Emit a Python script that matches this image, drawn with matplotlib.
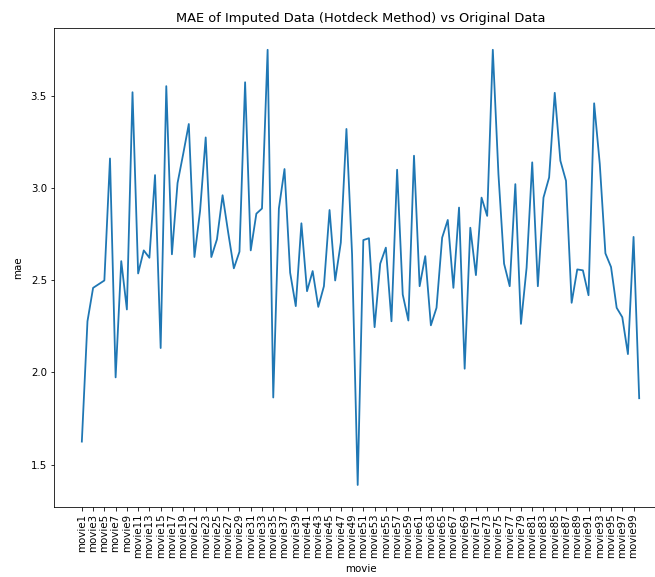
import matplotlib
matplotlib.use("Agg")
import matplotlib.pyplot as plt

# MAE per movie
movies = [f"movie{i}" for i in range(1, 101)]
mae = [
    1.625, 2.277, 2.458, 2.478, 2.498, 3.159, 1.973, 2.603, 2.341, 3.518,
    2.536, 2.661, 2.621, 3.069, 2.132, 3.551, 2.640, 3.026, 3.183, 3.346,
    2.625, 2.875, 3.273, 2.625, 2.721, 2.960, 2.757, 2.564, 2.654, 3.572,
    2.661, 2.860, 2.888, 3.748, 1.864, 2.888, 3.102, 2.540, 2.359, 2.808,
    2.440, 2.549, 2.355, 2.467, 2.880, 2.498, 2.703, 3.319, 2.640, 1.390,
    2.717, 2.727, 2.245, 2.589, 2.676, 2.277, 3.098, 2.422, 2.281, 3.174,
    2.467, 2.630, 2.255, 2.350, 2.730, 2.826, 2.458, 2.893, 2.020, 2.784,
    2.527, 2.947, 2.848, 3.748, 3.074, 2.589, 2.467, 3.020, 2.263, 2.567,
    3.138, 2.467, 2.947, 3.056, 3.515, 3.147, 3.038, 2.377, 2.558, 2.553,
    2.418, 3.458, 3.129, 2.645, 2.571, 2.350, 2.299, 2.099, 2.734, 1.860,
]
tick_labels = movies[::2]

fig = plt.figure(figsize=(655 / 72, 577 / 72), dpi=72)
# axes run slightly past the right edge, like the cropped original
ax = fig.add_axes([0.0824, 0.1218, 0.936, 0.8296])

ax.plot(movies, mae, color="#1f77b4", linewidth=1.8)
ax.set_xticks(tick_labels)
ax.set_xticklabels(tick_labels, rotation=90, fontsize=10.3)
ax.tick_params(axis="y", labelsize=10.3)
ax.set_title("MAE of Imputed Data (Hotdeck Method) vs Original Data", fontsize=13)
ax.set_xlabel("movie", fontsize=10.3, labelpad=6)
ax.set_ylabel("mae", fontsize=10.3, labelpad=8)

fig.savefig("out.png", dpi=72, facecolor="white")
